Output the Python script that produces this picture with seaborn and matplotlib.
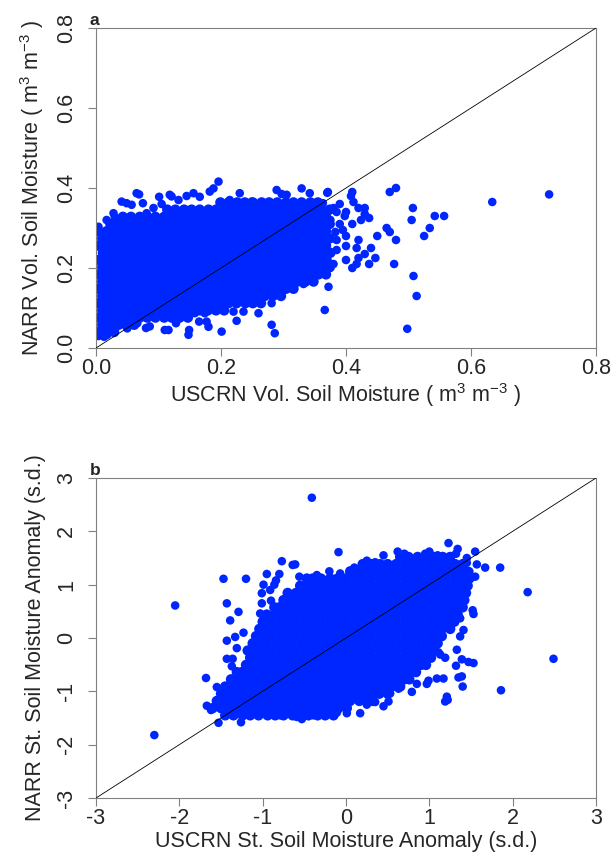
import numpy as np
import pandas as pd
import matplotlib
matplotlib.use("Agg")
import matplotlib.pyplot as plt
import seaborn as sns

sns.set_style("white")
plt.rcParams['font.family'] = ['Liberation Sans', 'DejaVu Sans']
plt.rcParams['mathtext.fontset'] = 'custom'
plt.rcParams['mathtext.rm'] = 'Liberation Sans'
plt.rcParams['mathtext.it'] = 'Liberation Sans:italic'

# PANEL A - volumetric soil moisture (m3 m-3)
# dense core of the cloud
a_row_y = [0.040, 0.058, 0.076, 0.094, 0.112, 0.130, 0.148, 0.166, 0.184, 0.202,
           0.220, 0.238, 0.256, 0.274, 0.292, 0.310, 0.328, 0.346, 0.364]
a_row_x = [
    [0.004, 0.016, 0.029],
    [0.010, 0.022, 0.036, 0.048, 0.061],
    [0.004, 0.017, 0.031, 0.043, 0.056, 0.070, 0.082, 0.095, 0.109, 0.121, 0.134, 0.147],
    [0.010, 0.023, 0.037, 0.049, 0.062, 0.076, 0.088, 0.101, 0.115, 0.127, 0.140, 0.154,
     0.166, 0.179, 0.192, 0.205],
    [0.004, 0.017, 0.030, 0.044, 0.056, 0.069, 0.083, 0.095, 0.108, 0.122, 0.134, 0.147,
     0.161, 0.173, 0.186, 0.200, 0.212, 0.225, 0.239, 0.251, 0.264],
    [0.010, 0.024, 0.036, 0.049, 0.063, 0.075, 0.088, 0.102, 0.114, 0.127, 0.141, 0.153,
     0.166, 0.180, 0.192, 0.205, 0.219, 0.231, 0.244, 0.258, 0.270, 0.283, 0.296],
    [0.004, 0.017, 0.031, 0.043, 0.056, 0.070, 0.082, 0.095, 0.109, 0.121, 0.134, 0.148,
     0.160, 0.173, 0.187, 0.199, 0.212, 0.226, 0.238, 0.251, 0.265, 0.277, 0.290, 0.304, 0.316],
    [0.010, 0.023, 0.037, 0.049, 0.062, 0.076, 0.088, 0.101, 0.115, 0.127, 0.140, 0.154,
     0.166, 0.179, 0.193, 0.205, 0.218, 0.232, 0.244, 0.257, 0.271, 0.283, 0.296, 0.310,
     0.322, 0.335, 0.348],
    [0.004, 0.017, 0.030, 0.044, 0.056, 0.069, 0.083, 0.095, 0.108, 0.122, 0.134, 0.147,
     0.161, 0.173, 0.186, 0.200, 0.212, 0.225, 0.239, 0.251, 0.264, 0.278, 0.290, 0.303,
     0.317, 0.329, 0.342, 0.356, 0.368],
    [0.010, 0.024, 0.036, 0.049, 0.063, 0.075, 0.088, 0.102, 0.114, 0.127, 0.141, 0.153,
     0.166, 0.180, 0.192, 0.205, 0.219, 0.231, 0.244, 0.258, 0.270, 0.283, 0.297, 0.309,
     0.322, 0.336, 0.348, 0.361, 0.374],
    [0.004, 0.018, 0.030, 0.043, 0.057, 0.069, 0.082, 0.096, 0.108, 0.121, 0.135, 0.147,
     0.160, 0.174, 0.186, 0.199, 0.213, 0.225, 0.238, 0.252, 0.264, 0.277, 0.291, 0.303,
     0.316, 0.330, 0.342, 0.355, 0.369],
    [0.011, 0.023, 0.036, 0.050, 0.062, 0.075, 0.089, 0.101, 0.114, 0.128, 0.140, 0.153,
     0.167, 0.179, 0.192, 0.206, 0.218, 0.231, 0.245, 0.257, 0.270, 0.284, 0.296, 0.309,
     0.323, 0.335, 0.348, 0.362, 0.375],
    [0.004, 0.017, 0.031, 0.043, 0.056, 0.070, 0.082, 0.095, 0.109, 0.121, 0.134, 0.148,
     0.160, 0.173, 0.187, 0.199, 0.212, 0.226, 0.238, 0.251, 0.265, 0.277, 0.290, 0.304,
     0.316, 0.329, 0.343, 0.355, 0.368],
    [0.010, 0.024, 0.036, 0.049, 0.063, 0.075, 0.088, 0.102, 0.114, 0.127, 0.141, 0.153,
     0.166, 0.180, 0.192, 0.205, 0.219, 0.231, 0.244, 0.258, 0.270, 0.283, 0.297, 0.309,
     0.322, 0.336, 0.348, 0.361, 0.374],
    [0.004, 0.017, 0.030, 0.044, 0.056, 0.069, 0.083, 0.095, 0.108, 0.122, 0.134, 0.147,
     0.161, 0.173, 0.186, 0.200, 0.212, 0.225, 0.239, 0.251, 0.264, 0.278, 0.290, 0.303,
     0.317, 0.329, 0.342, 0.356, 0.368],
    [0.023, 0.037, 0.049, 0.062, 0.076, 0.088, 0.101, 0.115, 0.127, 0.140, 0.154, 0.166,
     0.179, 0.193, 0.205, 0.218, 0.232, 0.244, 0.257, 0.271, 0.283, 0.296, 0.310, 0.322,
     0.335, 0.349, 0.361, 0.374],
    [0.043, 0.056, 0.070, 0.082, 0.095, 0.109, 0.121, 0.134, 0.148, 0.160, 0.173, 0.187,
     0.199, 0.212, 0.226, 0.238, 0.251, 0.265, 0.277, 0.290, 0.304, 0.316, 0.329, 0.343,
     0.355, 0.368],
    [0.114, 0.127, 0.141, 0.153, 0.166, 0.180, 0.192, 0.205, 0.219, 0.231, 0.244, 0.258,
     0.270, 0.283, 0.297, 0.309, 0.322, 0.336, 0.348, 0.361, 0.374],
    [0.199, 0.212, 0.226, 0.238, 0.251, 0.265, 0.277, 0.290, 0.304, 0.316, 0.329, 0.343, 0.355],
]

# single points around the edge of the cloud (x, y)
a_edge = [
    (0.004, 0.303), (0.017, 0.320), (0.028, 0.337), (0.030, 0.328), (0.041, 0.366),
    (0.049, 0.362), (0.057, 0.358), (0.065, 0.387), (0.069, 0.384), (0.075, 0.362),
    (0.081, 0.337), (0.092, 0.350), (0.101, 0.378), (0.105, 0.360), (0.118, 0.383),
    (0.121, 0.379), (0.132, 0.370), (0.145, 0.380), (0.156, 0.387), (0.166, 0.378),
    (0.182, 0.391), (0.188, 0.399), (0.196, 0.416), (0.214, 0.370), (0.230, 0.387),
    (0.249, 0.366), (0.265, 0.358), (0.289, 0.395), (0.297, 0.385), (0.305, 0.383),
    (0.329, 0.399), (0.342, 0.387), (0.363, 0.362), (0.370, 0.388),
    (0.004, 0.030), (0.013, 0.028), (0.018, 0.033), (0.024, 0.057), (0.029, 0.041),
    (0.050, 0.049), (0.066, 0.062), (0.080, 0.050), (0.082, 0.078), (0.086, 0.054),
    (0.109, 0.078), (0.110, 0.045), (0.116, 0.045), (0.128, 0.062), (0.128, 0.083),
    (0.144, 0.083), (0.148, 0.033), (0.149, 0.045), (0.158, 0.087), (0.165, 0.066),
    (0.174, 0.087), (0.177, 0.066), (0.180, 0.053), (0.190, 0.095), (0.201, 0.041),
    (0.220, 0.091), (0.225, 0.068), (0.236, 0.091), (0.260, 0.087), (0.281, 0.058),
    (0.286, 0.037), (0.281, 0.112), (0.278, 0.141), (0.310, 0.153), (0.332, 0.170),
    (0.345, 0.174), (0.366, 0.095), (0.372, 0.153), (0.366, 0.188),
]

# points spread to the right of the cloud
a_right = [
    (0.371, 0.390), (0.410, 0.390), (0.408, 0.380), (0.412, 0.365), (0.390, 0.360),
    (0.380, 0.350), (0.385, 0.340), (0.400, 0.340), (0.398, 0.330), (0.420, 0.350),
    (0.430, 0.350), (0.430, 0.335), (0.437, 0.325), (0.424, 0.320), (0.470, 0.390),
    (0.480, 0.400), (0.507, 0.350), (0.505, 0.320), (0.542, 0.330), (0.557, 0.330),
    (0.534, 0.300), (0.525, 0.280), (0.634, 0.365), (0.725, 0.384), (0.465, 0.300),
    (0.470, 0.290), (0.480, 0.270), (0.450, 0.280), (0.440, 0.250), (0.447, 0.225),
    (0.437, 0.210), (0.477, 0.210), (0.508, 0.180), (0.513, 0.130), (0.498, 0.048),
    (0.400, 0.220), (0.410, 0.200), (0.417, 0.210), (0.430, 0.235), (0.417, 0.250),
    (0.400, 0.255), (0.420, 0.270), (0.380, 0.210), (0.364, 0.210), (0.360, 0.250),
    (0.385, 0.270), (0.383, 0.290), (0.400, 0.280), (0.390, 0.310), (0.410, 0.310),
    (0.395, 0.295), (0.375, 0.320), (0.385, 0.245), (0.420, 0.225), (0.332, 0.160),
]

# PANEL B - standardized anomalies (s.d.)
b_row_y = [-1.45, -1.315, -1.18, -1.045, -0.91, -0.775, -0.64, -0.505, -0.37, -0.235,
           -0.10, 0.035, 0.17, 0.305, 0.44, 0.575, 0.71, 0.845, 0.98, 1.115, 1.25,
           1.385, 1.52]
b_row_x = [
    [-1.45, -1.35, -1.24, -1.15, -1.05, -0.94, -0.85, -0.75, -0.64, -0.55, -0.45, -0.34,
     -0.25, -0.15],
    [-1.60, -1.50, -1.40, -1.29, -1.20, -1.10, -0.99, -0.90, -0.80, -0.69, -0.60, -0.50,
     -0.39, -0.30, -0.20, -0.09, 0.01],
    [-1.55, -1.45, -1.34, -1.25, -1.15, -1.04, -0.95, -0.85, -0.74, -0.65, -0.55, -0.44,
     -0.35, -0.25, -0.14, -0.05, 0.05, 0.16, 0.25, 0.32],
    [-1.50, -1.40, -1.29, -1.20, -1.10, -0.99, -0.90, -0.80, -0.69, -0.60, -0.50, -0.39,
     -0.30, -0.20, -0.09, 0.00, 0.10, 0.21, 0.30, 0.40, 0.50],
    [-1.45, -1.34, -1.25, -1.15, -1.04, -0.95, -0.85, -0.74, -0.65, -0.55, -0.44, -0.35,
     -0.25, -0.14, -0.05, 0.05, 0.16, 0.25, 0.35, 0.46, 0.55, 0.65],
    [-1.38, -1.29, -1.20, -1.10, -0.99, -0.90, -0.80, -0.69, -0.60, -0.50, -0.39, -0.30,
     -0.20, -0.09, 0.00, 0.10, 0.21, 0.30, 0.40, 0.51, 0.60, 0.70, 0.76],
    [-1.31, -1.25, -1.15, -1.05, -0.96, -0.86, -0.75, -0.66, -0.56, -0.45, -0.36, -0.26,
     -0.15, -0.06, 0.04, 0.15, 0.24, 0.34, 0.45, 0.54, 0.64, 0.75, 0.84],
    [-1.20, -1.10, -0.99, -0.90, -0.80, -0.69, -0.60, -0.50, -0.39, -0.30, -0.20, -0.09,
     0.00, 0.10, 0.21, 0.30, 0.40, 0.51, 0.60, 0.70, 0.81, 0.90, 0.96],
    [-1.15, -1.05, -0.94, -0.85, -0.75, -0.64, -0.55, -0.45, -0.34, -0.25, -0.15, -0.04,
     0.05, 0.15, 0.26, 0.35, 0.45, 0.56, 0.65, 0.75, 0.86, 0.95, 1.02],
    [-1.18, -1.10, -1.00, -0.90, -0.79, -0.70, -0.60, -0.49, -0.40, -0.30, -0.19, -0.10,
     0.00, 0.11, 0.20, 0.30, 0.41, 0.50, 0.60, 0.71, 0.80, 0.90, 1.01, 1.06],
    [-1.12, -1.05, -0.95, -0.84, -0.75, -0.65, -0.54, -0.45, -0.35, -0.24, -0.15, -0.05,
     0.06, 0.15, 0.25, 0.36, 0.45, 0.55, 0.66, 0.75, 0.85, 0.96, 1.05, 1.10],
    [-1.08, -1.00, -0.90, -0.79, -0.70, -0.60, -0.49, -0.40, -0.30, -0.19, -0.10, 0.00,
     0.11, 0.20, 0.30, 0.41, 0.50, 0.60, 0.71, 0.80, 0.90, 1.01, 1.10, 1.15],
    [-1.04, -0.95, -0.85, -0.74, -0.65, -0.55, -0.44, -0.35, -0.25, -0.14, -0.05, 0.05,
     0.16, 0.25, 0.35, 0.46, 0.55, 0.65, 0.76, 0.85, 0.95, 1.06, 1.15, 1.25],
    [-1.00, -0.90, -0.79, -0.70, -0.60, -0.49, -0.40, -0.30, -0.19, -0.10, 0.00, 0.11,
     0.20, 0.30, 0.41, 0.50, 0.60, 0.71, 0.80, 0.90, 1.01, 1.10, 1.20, 1.30],
    [-0.95, -0.85, -0.74, -0.65, -0.55, -0.44, -0.35, -0.25, -0.14, -0.05, 0.05, 0.16,
     0.25, 0.35, 0.46, 0.55, 0.65, 0.76, 0.85, 0.95, 1.06, 1.15, 1.25, 1.34],
    [-0.86, -0.80, -0.70, -0.60, -0.49, -0.40, -0.30, -0.19, -0.10, 0.00, 0.11, 0.20,
     0.30, 0.41, 0.50, 0.60, 0.71, 0.80, 0.90, 1.01, 1.10, 1.20, 1.31, 1.40],
    [-0.75, -0.65, -0.55, -0.44, -0.35, -0.25, -0.14, -0.05, 0.05, 0.16, 0.25, 0.35,
     0.46, 0.55, 0.65, 0.76, 0.85, 0.95, 1.06, 1.15, 1.25, 1.36, 1.42],
    [-0.70, -0.60, -0.49, -0.40, -0.30, -0.19, -0.10, 0.00, 0.11, 0.20, 0.30, 0.41,
     0.50, 0.60, 0.71, 0.80, 0.90, 1.01, 1.10, 1.20, 1.31, 1.40, 1.44],
    [-0.55, -0.45, -0.34, -0.25, -0.15, -0.04, 0.05, 0.15, 0.26, 0.35, 0.45, 0.56,
     0.65, 0.75, 0.86, 0.95, 1.05, 1.16, 1.25, 1.35, 1.46],
    [-0.47, -0.40, -0.30, -0.19, -0.10, 0.00, 0.11, 0.20, 0.30, 0.41, 0.50, 0.60,
     0.71, 0.80, 0.90, 1.01, 1.10, 1.20, 1.31, 1.40, 1.48],
    [0.05, 0.15, 0.26, 0.35, 0.45, 0.56, 0.65, 0.75, 0.86, 0.95, 1.05, 1.16, 1.25, 1.35, 1.45],
    [0.20, 0.30, 0.41, 0.50, 0.60, 0.71, 0.80, 0.90, 1.01, 1.10, 1.20, 1.31, 1.40],
    [0.65, 0.75, 0.86, 0.95, 1.05, 1.16, 1.25],
]

b_edge = [
    (-0.41, 2.63), (-2.05, 0.61), (-2.30, -1.82), (-1.47, 1.11), (-1.20, 1.11),
    (-1.43, 0.65), (-1.29, 0.49), (-1.39, 0.33), (-1.43, -0.05), (-1.33, 0.02),
    (-1.31, -0.19), (-1.23, 0.10), (-1.43, -0.39), (-1.36, -0.39), (-1.37, -0.53),
    (-1.68, -0.75), (-1.55, -0.92), (-1.44, -0.92), (-1.67, -1.27), (-1.62, -1.35),
    (-1.50, -1.27), (-1.53, -1.59), (-1.26, -1.58), (-0.77, 1.44), (-0.64, 1.37),
    (-0.61, 1.38), (-0.56, 1.15), (-0.80, 1.20), (-0.84, 1.08), (-0.86, 1.00),
    (-0.95, 1.20), (-0.99, 1.00), (-1.01, 0.84), (-0.91, 0.90), (-1.01, 0.65),
    (-1.03, 0.46), (-0.90, 0.70), (-0.96, 0.05), (-1.06, -0.20), (-0.58, -1.47),
    (-0.47, -1.38), (-0.35, 1.18), (-0.23, 1.09), (-0.07, 1.21), (-0.09, 1.61),
    (1.23, 1.78), (1.34, 1.67), (1.32, 1.58), (1.55, 1.62), (1.45, 1.50),
    (1.45, 1.41), (1.67, 1.32), (1.85, 1.32), (1.57, 1.38), (1.55, 1.15),
    (2.18, 0.86), (1.52, 0.52), (1.53, 0.45), (2.49, -0.39), (1.86, -0.98),
    (1.22, -1.16), (1.40, -0.91), (1.35, -0.74), (1.53, -0.47), (1.47, -0.45),
    (1.39, -0.40), (1.32, -0.52), (1.19, -0.37), (1.13, -0.31), (1.11, -0.27),
    (1.17, -0.76), (1.09, -0.76), (0.99, -0.80), (0.97, -0.86), (0.85, -0.86),
    (0.79, -1.01), (0.63, -0.95), (0.53, -1.04), (0.51, -1.19), (0.31, -1.15),
    (0.17, -1.41), (0.01, -1.41), (-0.11, -1.31), (-0.27, -1.39), (-0.41, -1.41),
    (-0.53, -1.52), (-1.03, -1.40), (-0.79, -1.45), (-0.59, -1.48), (-0.39, -1.45),
    (-0.25, -1.45), (-0.11, -1.40), (0.25, -1.25), (0.35, -1.20), (0.45, -1.28),
    (1.21, -1.10), (1.19, -1.19), (1.39, -0.72), (1.33, -0.22), (1.37, 0.03),
    (1.41, 0.15), (1.37, 0.37), (1.48, 1.25), (0.25, 1.45), (0.45, 1.55),
    (0.62, 1.62), (0.70, 1.58), (0.95, 1.58), (1.00, 1.62), (1.10, 1.55),
    (0.35, 1.42), (0.10, 1.32), (-0.20, 1.25),
]


def rows_frame(row_y, row_x):
    xs, ys = [], []
    for y, row in zip(row_y, row_x):
        xs += list(row)
        ys += [y] * len(row)
    return pd.DataFrame({"x": xs, "y": ys})


def points_frame(*groups):
    pts = [p for g in groups for p in g]
    return pd.DataFrame(pts, columns=["x", "y"])


core_a = rows_frame(a_row_y, a_row_x)
loose_a = points_frame(a_edge, a_right)
core_b = rows_frame(b_row_y, b_row_x)
loose_b = points_frame(b_edge)

fig = plt.figure(figsize=(6.12, 8.61), dpi=100)
ax_a = fig.add_axes([96 / 612, 1 - 348 / 861, 500 / 612, 320 / 861])
ax_b = fig.add_axes([96 / 612, 1 - 798 / 861, 500 / 612, 320 / 861])

FS = 15.5
BLUE = "#0026ff"

panels = [
    (ax_a, core_a, loose_a, (0, 0.8), [0, 0.2, 0.4, 0.6, 0.8],
     ["0.0", "0.2", "0.4", "0.6", "0.8"],
     "USCRN Vol. Soil Moisture ( m$^3$ m$^{-3}$ )",
     "NARR Vol. Soil Moisture ( m$^3$ m$^{-3}$ )", "a", 25),
    (ax_b, core_b, loose_b, (-3, 3), [-3, -2, -1, 0, 1, 2, 3],
     ["-3", "-2", "-1", "0", "1", "2", "3"],
     "USCRN St. Soil Moisture Anomaly (s.d.)",
     "NARR St. Soil Moisture Anomaly (s.d.)", "b", 475),
]

for ax, core, loose, lim, ticks, tick_labels, xlabel, ylabel, tag, tag_y in panels:
    # overlapping points in the middle of the cloud
    sns.scatterplot(data=core, x="x", y="y", ax=ax, color=BLUE, s=56,
                    linewidth=0, edgecolor="none", zorder=2)
    sns.scatterplot(data=loose, x="x", y="y", ax=ax, color=BLUE, s=38,
                    linewidth=0, edgecolor="none", zorder=2)
    # 1:1 line
    ax.plot(lim, lim, color="black", lw=0.6, zorder=3)
    ax.set_xlim(lim)
    ax.set_ylim(lim)
    ax.set_xticks(ticks)
    ax.set_xticklabels(tick_labels)
    ax.set_yticks(ticks)
    ax.set_yticklabels(tick_labels)
    ax.tick_params(bottom=True, left=True, direction="out", length=6, width=0.8,
                   color="0.5", labelsize=FS)
    ax.tick_params(axis="x", pad=1.5)
    ax.tick_params(axis="y", labelrotation=90, pad=7.5)
    for lbl in ax.get_yticklabels():
        lbl.set_va("center")
    for sp in ax.spines.values():
        sp.set_color("0.5")
        sp.set_linewidth(0.8)
    ax.set_xlabel(xlabel, fontsize=FS, labelpad=1)
    ax.set_ylabel(ylabel, fontsize=FS, labelpad=7.5)
    fig.text(90 / 612, 1 - tag_y / 861, tag, fontsize=12.5, fontweight="bold",
             ha="left", va="baseline")

fig.savefig("out.png", dpi=100)
